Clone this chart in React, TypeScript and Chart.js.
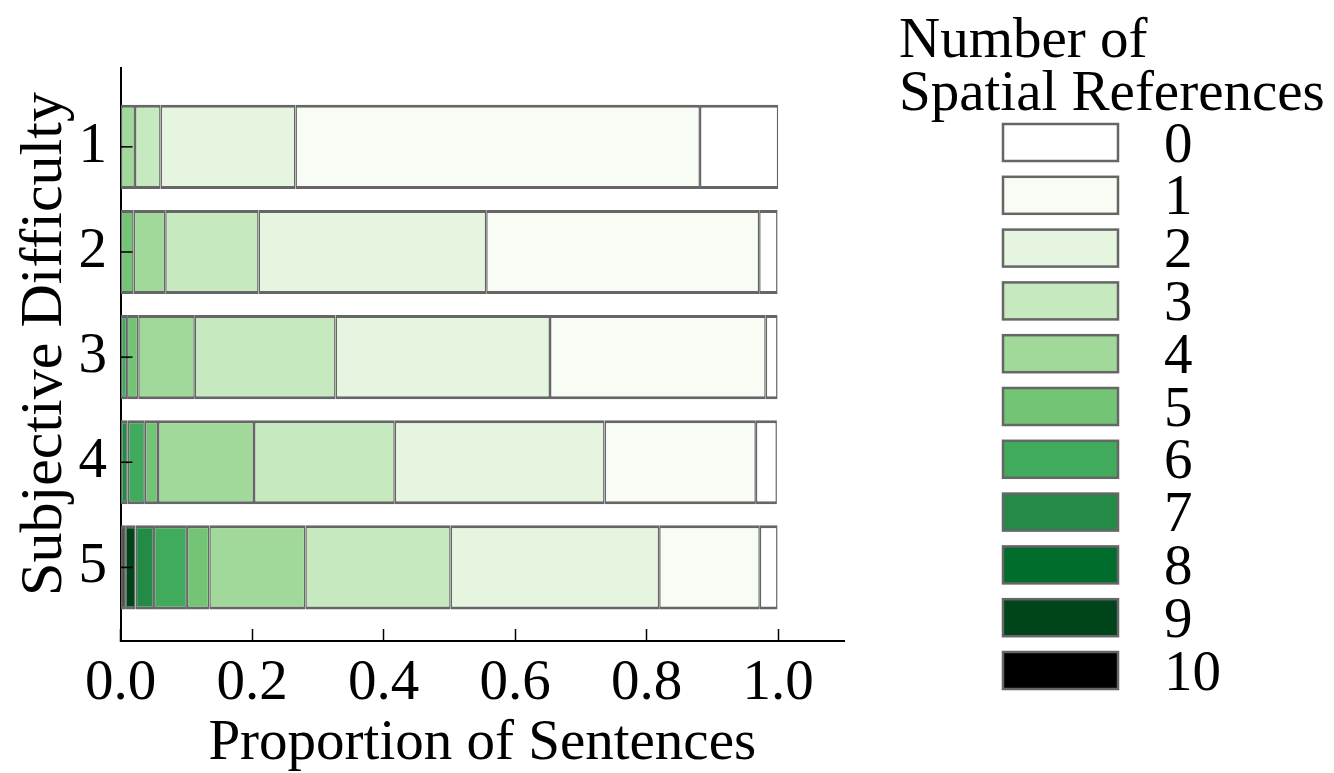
import { useEffect, useRef } from "react";
import { Chart, registerables } from "chart.js";

Chart.register(...registerables);

// Subjective difficulty levels (y categories)
const difficulties = [1, 2, 3, 4, 5];

// Number of spatial references (legend labels)
const referenceCounts = ["0", "1", "2", "3", "4", "5", "6", "7", "8", "9", "10"];

// Proportion of sentences for each reference count, per difficulty 1..5
const refs0 = [0.119, 0.028, 0.018, 0.032, 0.027];
const refs1 = [0.615, 0.415, 0.328, 0.23, 0.153];
const refs2 = [0.205, 0.346, 0.326, 0.319, 0.317];
const refs3 = [0.039, 0.142, 0.214, 0.214, 0.221];
const refs4 = [0.022, 0.048, 0.086, 0.146, 0.146];
const refs5 = [0, 0.02, 0.017, 0.02, 0.034];
const refs6 = [0, 0, 0.01, 0.026, 0.05];
const refs7 = [0, 0, 0, 0.011, 0.028];
const refs8 = [0, 0, 0, 0, 0];
const refs9 = [0, 0, 0, 0, 0.016];
const refs10 = [0, 0, 0, 0, 0.007];

const seriesByCount = [refs0, refs1, refs2, refs3, refs4, refs5, refs6, refs7, refs8, refs9, refs10];

const greens = [
  "#ffffff",
  "#f7fcf5",
  "#e5f5e0",
  "#c7e9c0",
  "#a1d99b",
  "#74c476",
  "#41ab5d",
  "#238b45",
  "#006d2c",
  "#00441b",
  "#000000",
];

const xTitle = "Proportion of Sentences";
const yTitle = "Subjective Difficulty";
const legendTitle = ["Number of", "Spatial References"];

const FONT = '"Liberation Serif", "Times New Roman", serif';
const FS = 57;
const EDGE = "#666666";

const textPlugin = {
  id: "refLegend",
  afterDraw(chart: any) {
    const ctx = chart.ctx as CanvasRenderingContext2D;
    ctx.save();

    // inward y ticks drawn over the bars
    const ys = chart.scales.y;
    const left = chart.chartArea.left;
    ctx.strokeStyle = "#000";
    ctx.lineWidth = 1.5;
    ys.ticks.forEach((t: any) => {
      const py = ys.getPixelForValue(t.value);
      ctx.beginPath();
      ctx.moveTo(left, py);
      ctx.lineTo(left + 12, py);
      ctx.stroke();
    });

    ctx.fillStyle = "#000";

    // y-axis title
    ctx.save();
    ctx.font = `60px ${FONT}`;
    ctx.translate(61, 344);
    ctx.rotate(-Math.PI / 2);
    ctx.textAlign = "center";
    ctx.textBaseline = "alphabetic";
    ctx.fillText(yTitle, 0, 0);
    ctx.restore();

    // legend
    ctx.font = `${FS}px ${FONT}`;
    ctx.textAlign = "left";
    ctx.textBaseline = "alphabetic";
    ctx.fillText(legendTitle[0], 899, 57);
    ctx.fillText(legendTitle[1], 899, 110);
    const ds = [...chart.data.datasets].reverse();
    const boxX = 1003;
    const boxW = 115;
    const boxH = 37;
    const step = 52.8;
    ds.forEach((d: any, i: number) => {
      const y = 124 + i * step;
      ctx.fillStyle = d.backgroundColor;
      ctx.fillRect(boxX, y, boxW, boxH);
      ctx.strokeStyle = EDGE;
      ctx.lineWidth = 2.5;
      ctx.strokeRect(boxX, y, boxW, boxH);
      ctx.fillStyle = "#000";
      ctx.fillText(d.label, 1164, y + boxH / 2 + 19);
    });
    ctx.restore();
  },
};

export default function App() {
  const ref = useRef<HTMLCanvasElement | null>(null);

  useEffect(() => {
    if (!ref.current) return;
    // stack from the most references (left) to zero references (right)
    const datasets = referenceCounts
      .map((label, i) => ({
        label,
        data: seriesByCount[i],
        backgroundColor: greens[i],
        borderColor: EDGE,
        borderWidth: { top: 3, bottom: 3, left: 1.5, right: 1.5 },
        borderSkipped: false as const,
        inflateAmount: 0,
        barPercentage: 1,
        categoryPercentage: 0.8,
      }))
      .reverse();

    const chart = new Chart(ref.current, {
      type: "bar",
      data: { labels: difficulties, datasets },
      plugins: [textPlugin],
      options: {
        indexAxis: "y",
        animation: false,
        responsive: false,
        devicePixelRatio: 1,
        layout: { padding: { top: 68, right: 490, left: 0, bottom: 0 } },
        plugins: {
          legend: { display: false },
          tooltip: { enabled: false },
        },
        scales: {
          x: {
            type: "linear",
            stacked: true,
            min: 0,
            max: 1.1,
            z: 1,
            afterFit: (s: any) => {
              s.height = 132;
            },
            ticks: {
              stepSize: 0.2,
              includeBounds: false,
              callback: (v: any) => Number(v).toFixed(1),
              font: { family: FONT, size: FS, lineHeight: 1 },
              color: "#000",
              padding: 27,
              maxRotation: 0,
              autoSkip: false,
            },
            grid: {
              drawOnChartArea: false,
              drawTicks: true,
              tickLength: -12,
              tickColor: "#000",
              tickWidth: 1.5,
            },
            border: { display: true, color: "#000", width: 2 },
            title: {
              display: true,
              text: xTitle,
              color: "#000",
              font: { family: FONT, size: FS, lineHeight: 1 },
              padding: 0,
            },
          },
          y: {
            type: "linear",
            stacked: true,
            reverse: true,
            offset: false,
            min: 0.25,
            max: 5.7,
            z: 1,
            afterFit: (s: any) => {
              s.width = 120.5;
            },
            ticks: {
              stepSize: 1,
              includeBounds: false,
              callback: (v: any) => String(v),
              font: { family: FONT, size: FS, lineHeight: 1 },
              color: "#000",
              padding: 25.5,
              autoSkip: false,
            },
            grid: {
              offset: false,
              drawOnChartArea: false,
              drawTicks: true,
              tickLength: -12,
              tickColor: "#000",
              tickWidth: 1.5,
            },
            border: { display: true, color: "#000", width: 2 },
            title: { display: false },
          },
        },
      },
    } as any);
    return () => chart.destroy();
  }, []);

  return (
    <div
      style={{
        position: "fixed",
        left: 0,
        top: 0,
        width: 1334,
        height: 773,
        background: "#fff",
      }}
    >
      <canvas ref={ref} width={1334} height={773} style={{ width: 1334, height: 773, display: "block" }} />
    </div>
  );
}
